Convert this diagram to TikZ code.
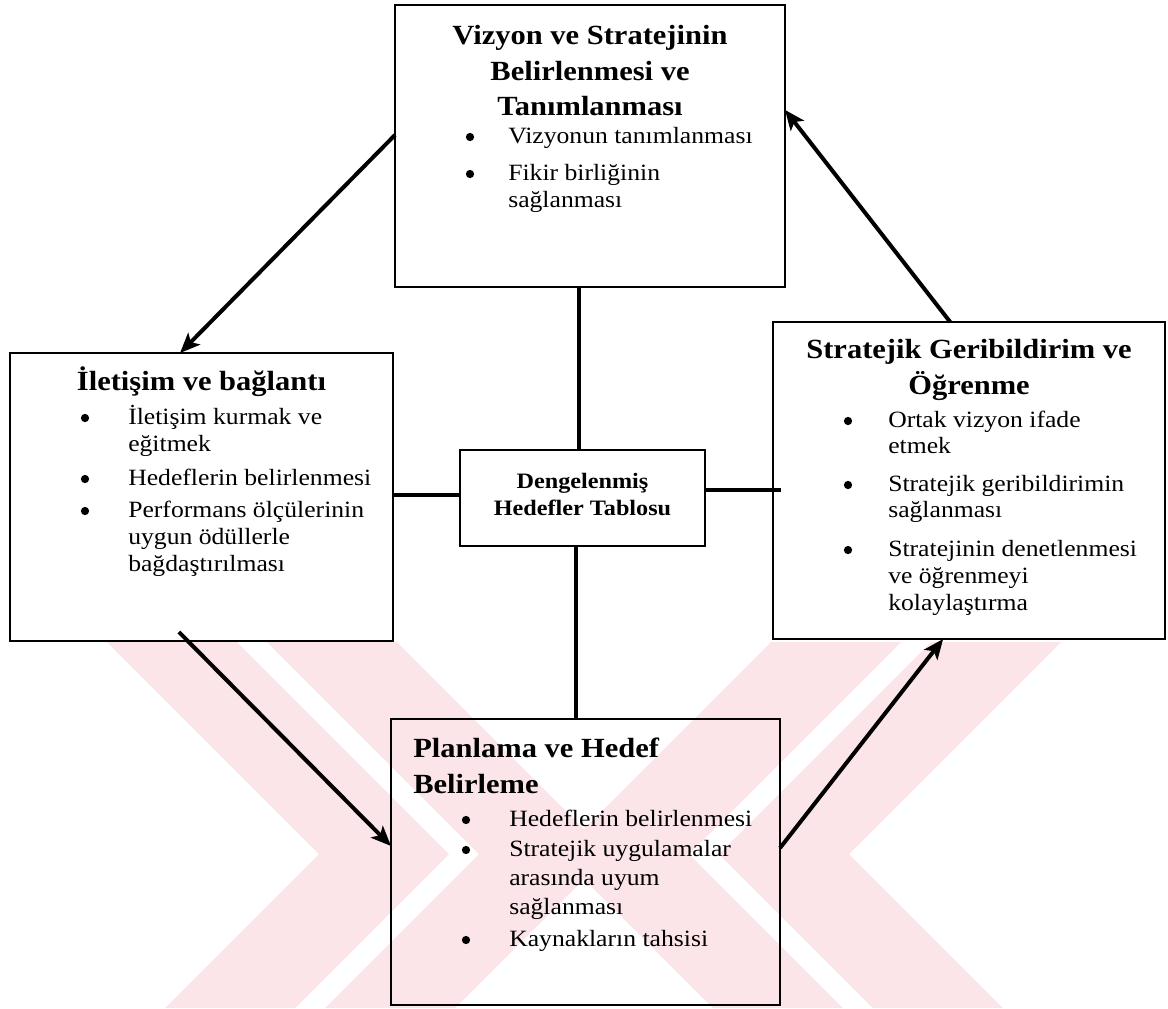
\documentclass[tikz,border=0pt]{standalone}
\usepackage{fontspec}
\setmainfont{Liberation Serif}[FakeStretch=1.1]
\usetikzlibrary{arrows.meta,calc}

\definecolor{stamp}{RGB}{252,229,233}

\tikzset{
  box/.style={draw, line width=1.4pt, inner sep=0pt, outer sep=0pt, anchor=north west},
  link/.style={line width=3.2pt},
  flow/.style={line width=3pt, -{Stealth[length=15pt,width=12.5pt,inset=3.5pt]}},
  ttl/.style={font=\bfseries\fontsize{20.8}{27}\selectfont, inner sep=0pt},
  bodytxt/.style={font=\fontsize{17.5}{21}\selectfont, inner sep=0pt, anchor=base west},
  ctr/.style={font=\bfseries\fontsize{16.5}{20}\selectfont, inner sep=0pt, anchor=base},
  dot/.style={circle, fill, inner sep=0pt, minimum size=6.2pt},
  band/.style={fill=stamp, draw=none},
}

% bullet item: name, bullet x, text x, baseline y, text
\newcommand\bitem[5]{%
  \node[dot] (#1d) at (#2,#4-6) {};
  \node[bodytxt] (#1) at (#3,#4) {#5};}

\begin{document}
\begin{tikzpicture}[x=0.75pt,y=-0.75pt]
\useasboundingbox (0,0) rectangle (1168,1008);
\fill[white] (0,0) rectangle (1168,1008);

% ---- pale chevron stamp in the lower half ----
\fill[band] (107,642) -- (319,854) -- (165,1008) -- (295,1008) -- (449,854) -- (237,642) -- cycle;
\fill[band] (267,642) -- (479,854) -- (325,1008) -- (455,1008) -- (609,854) -- (397,642) -- cycle;
\fill[band] (1061,642) -- (849,854) -- (1003,1008) -- (873,1008) -- (719,854) -- (931,642) -- cycle;
\fill[band] (901,642) -- (689,854) -- (843,1008) -- (713,1008) -- (559,854) -- (771,642) -- cycle;

% ---- boxes ----
\node[box, minimum width=292.5pt, minimum height=211.5pt] (T) at (395,5) {};
\node[box, minimum width=287.25pt, minimum height=216pt] (L) at (10,353) {};
\node[box, minimum width=294pt, minimum height=237.75pt] (R) at (773,322) {};
\node[box, minimum width=291.75pt, minimum height=214.5pt] (B) at (391,719) {};
\node[box, minimum width=183.75pt, minimum height=72pt] (C) at (460,450) {};

% ---- vision and strategy ----
\node[ttl, anchor=base] (T1) at (590,44) {Vizyon ve Stratejinin};
\node[ttl, anchor=base] (T2) at (590,80) {Belirlenmesi ve};
\node[ttl, anchor=base] (T3) at (590,115) {Tanımlanması};
\bitem{Ta}{470}{508}{143}{Vizyonun tanımlanması}
\bitem{Tb}{470}{508}{180}{Fikir birliğinin}
\node[bodytxt] (Tb2) at (508,207) {sağlanması};

% ---- communication ----
\node[ttl, anchor=base] (L1) at (201.5,390) {İletişim ve bağlantı};
\bitem{La}{85}{128}{424}{İletişim kurmak ve}
\node[bodytxt] (La2) at (128,451) {eğitmek};
\bitem{Lb}{85}{128}{485}{Hedeflerin belirlenmesi}
\bitem{Lc}{85}{128}{517}{Performans ölçülerinin}
\node[bodytxt] (Lc2) at (128,544) {uygun ödüllerle};
\node[bodytxt] (Lc3) at (128,571) {bağdaştırılması};

% ---- feedback and learning ----
\node[ttl, anchor=base] (R1) at (969,358) {Stratejik Geribildirim ve};
\node[ttl, anchor=base] (R2) at (969,394) {Öğrenme};
\bitem{Ra}{848}{888}{427}{Ortak vizyon ifade}
\node[bodytxt] (Ra2) at (888,453) {etmek};
\bitem{Rb}{848}{888}{491}{Stratejik geribildirimin}
\node[bodytxt] (Rb2) at (888,517) {sağlanması};
\bitem{Rc}{848}{888}{556}{Stratejinin denetlenmesi}
\node[bodytxt] (Rc2) at (888,583) {ve öğrenmeyi};
\node[bodytxt] (Rc3) at (888,610) {kolaylaştırma};

% ---- planning ----
\node[ttl, anchor=base west] (B1) at (413,757) {Planlama ve Hedef};
\node[ttl, anchor=base west] (B2) at (413,793) {Belirleme};
\bitem{Ba}{466}{509}{826}{Hedeflerin belirlenmesi}
\bitem{Bb}{466}{509}{856}{Stratejik uygulamalar}
\node[bodytxt] (Bb2) at (509,885) {arasında uyum};
\node[bodytxt] (Bb3) at (509,914) {sağlanması};
\bitem{Bc}{466}{509}{946}{Kaynakların tahsisi}

% ---- balanced scorecard ----
\node[ctr] (C1) at (582.5,488) {Dengelenmiş};
\node[ctr] (C2) at (582.5,515) {Hedefler Tablosu};

% ---- links to the scorecard ----
\coordinate (cu) at ($(C.north west)!0.485!(C.north east)$);
\draw[link] (cu) -- (cu |- T.south);
\coordinate (cd) at ($(C.south west)!0.473!(C.south east)$);
\draw[link] (cd) -- (cd |- B.north);
\coordinate (cl) at ($(C.north west)!0.47!(C.south west)$);
\draw[link] (cl) -- (cl -| L.east);
\coordinate (cr) at ($(C.north east)!0.42!(C.south east)$);
\draw[link] (cr) -- ($(cr -| R.west)+(8,0)$);

% ---- cycle arrows ----
\draw[flow] ($(T.north west)!0.461!(T.south west)$) -- ($(L.north west)!0.444!(L.north east)$);
\draw[flow] ($(L.south west)!0.441!(L.south east)+(0,-9)$) -- ($(B.north west)!0.444!(B.south west)$);
\draw[flow] ($(B.north east)!0.451!(B.south east)$) -- ($(R.south west)!0.434!(R.south east)$);
\draw[flow] ($(R.north west)!0.452!(R.north east)$) -- ($(T.north east)!0.372!(T.south east)$);
\end{tikzpicture}
\end{document}
